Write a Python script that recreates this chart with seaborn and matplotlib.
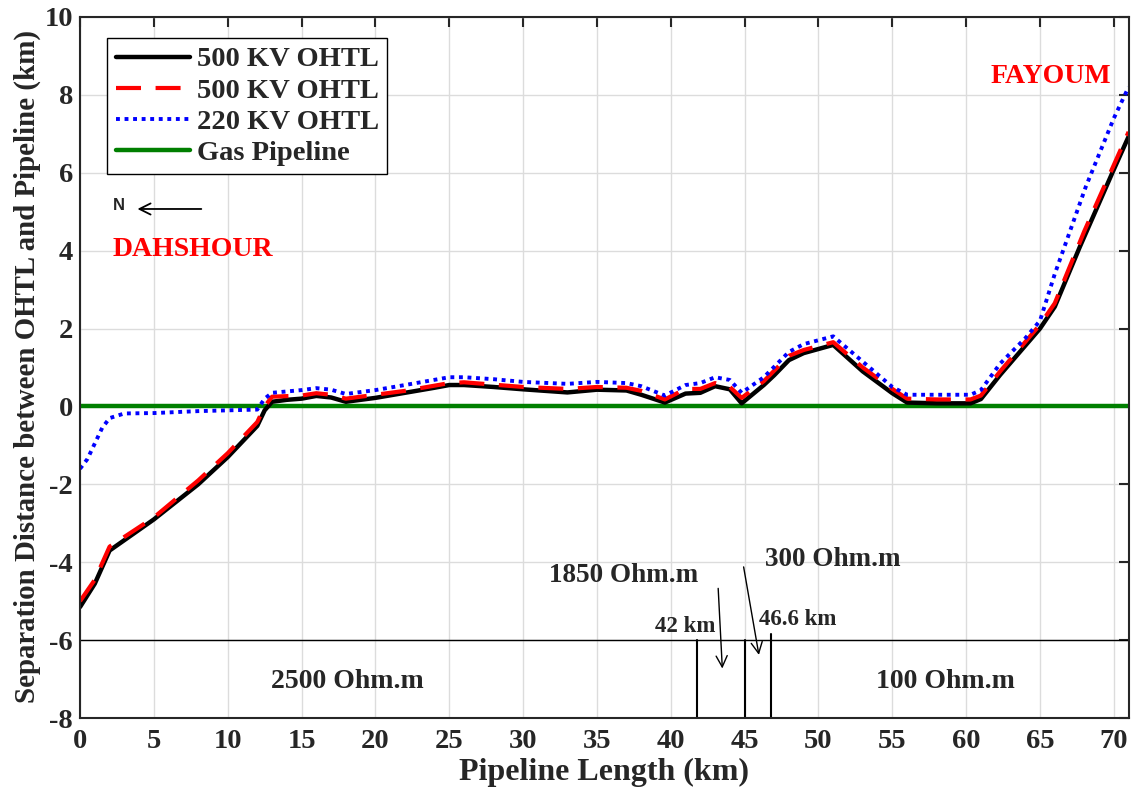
import numpy as np
import pandas as pd
import matplotlib
matplotlib.use("Agg")
import matplotlib.pyplot as plt
import seaborn as sns

# ---- data ----
x_black = [0, 1, 2, 5, 8, 10, 12, 12.5, 13, 14, 15, 16, 17, 18, 20, 22, 24, 25, 26, 28, 30, 33, 35, 37, 38,
           39.6, 41, 42, 43, 44, 44.8, 46.3, 47, 48, 49, 51, 53, 55, 56, 58, 60.3, 61, 62.3, 65, 66, 67.7, 69.9, 71]
y_black = [-5.15, -4.55, -3.7, -2.9, -2.0, -1.3, -0.5, -0.1, 0.12, 0.17, 0.2, 0.27, 0.23, 0.12, 0.22, 0.35, 0.48,
           0.55, 0.55, 0.5, 0.44, 0.36, 0.43, 0.41, 0.3, 0.1, 0.33, 0.35, 0.52, 0.44, 0.08, 0.55, 0.8, 1.19,
           1.37, 1.58, 0.9, 0.34, 0.1, 0.08, 0.08, 0.19, 0.81, 2.0, 2.56, 4.1, 6.0, 6.93]

x_red = [0, 1, 2, 5, 8, 10, 12, 12.5, 13, 15, 16, 17, 18, 20, 22, 25, 26, 28, 30, 33, 35, 37, 38,
         39.6, 41, 42, 43, 44, 44.8, 46.3, 48, 49, 51, 53, 55, 56, 58, 60.3, 61, 62.3, 65, 66, 68, 70, 71]
y_red = [-5.0, -4.45, -3.6, -2.85, -1.9, -1.2, -0.4, 0.0, 0.25, 0.28, 0.34, 0.3, 0.2, 0.3, 0.4, 0.6, 0.62,
         0.56, 0.5, 0.45, 0.5, 0.48, 0.4, 0.18, 0.45, 0.45, 0.6, 0.5, 0.22, 0.65, 1.3, 1.45, 1.65, 1.0, 0.45,
         0.2, 0.18, 0.18, 0.28, 0.9, 2.1, 2.65, 4.5, 6.2, 7.05]

x_blue = [0, 0.5, 1, 1.5, 2, 3, 5, 8, 10, 12, 12.5, 13, 15, 16, 17, 18, 20, 22, 25, 26, 28, 30, 33, 35, 37,
          38, 39.6, 41, 42, 43, 44, 44.8, 46.3, 48, 49, 51, 53, 55, 56, 58, 60.3, 61, 62.3, 64, 65, 66, 68.1, 70, 71]
y_blue = [-1.6, -1.35, -0.95, -0.55, -0.3, -0.18, -0.17, -0.12, -0.1, -0.08, 0.2, 0.35, 0.42, 0.47, 0.43, 0.32,
          0.42, 0.55, 0.75, 0.75, 0.7, 0.63, 0.58, 0.63, 0.6, 0.52, 0.28, 0.55, 0.6, 0.75, 0.68, 0.35, 0.75,
          1.4, 1.6, 1.8, 1.15, 0.5, 0.3, 0.3, 0.3, 0.42, 1.1, 1.75, 2.2, 3.4, 5.64, 7.4, 8.2]

x_gas = [0, 71]
y_gas = [0, 0]

series_labels = ["500 KV OHTL", "500 KV OHTL ", "220 KV OHTL", "Gas Pipeline"]
x_ticks = [0, 5, 10, 15, 20, 25, 30, 35, 40, 45, 50, 55, 60, 65, 70]
y_ticks = [-8, -6, -4, -2, 0, 2, 4, 6, 8, 10]

# soil layer boundaries (km) and resistivity annotations
layer_x = [41.8, 45.0, 46.8]
layer_top = [-6.0, -6.0, -5.85]
layer_y = -6.0

# ---- plotting ----
sns.set_style("whitegrid")
plt.rcParams['font.family'] = 'Liberation Serif'
plt.rcParams['axes.unicode_minus'] = False

fig = plt.figure(figsize=(11.32, 7.97), dpi=100)
ax = fig.add_axes([0.0707, 0.0991, 0.9263, 0.8796])

frames = []
for lab, xs, ys in zip(series_labels, [x_black, x_red, x_blue, x_gas], [y_black, y_red, y_blue, y_gas]):
    frames.append(pd.DataFrame({"x": xs, "y": ys, "series": lab}))
df = pd.concat(frames, ignore_index=True)

palette = {series_labels[0]: "black", series_labels[1]: "#ff0000",
           series_labels[2]: "#0000ff", series_labels[3]: "#007f00"}
styles = {series_labels[0]: (None, 3.2), series_labels[1]: ((6, 3.5), 3.0),
          series_labels[2]: ((1, 1.2), 2.8), series_labels[3]: (None, 3.2)}

for lab in series_labels:
    sub = df[df["series"] == lab]
    dash, lw = styles[lab]
    sns.lineplot(data=sub, x="x", y="y", ax=ax, color=palette[lab], linewidth=lw,
                 label=lab.strip(), sort=False, estimator=None)
    line = ax.lines[-1]
    if dash is not None:
        line.set_dashes(dash)
    if lab == series_labels[3]:
        line.set_zorder(1.5)

# soil layers
ax.plot([0, 71], [layer_y, layer_y], color="black", lw=1.0)
for lx, lt in zip(layer_x, layer_top):
    ax.plot([lx, lx], [-8, lt], color="black", lw=1.5)

ax.set_xlim(0, 71)
ax.set_ylim(-8, 10)
ax.set_xticks(x_ticks)
ax.set_yticks(y_ticks)
ax.grid(True, color="#dcdcdc", lw=1.0)
for s in ax.spines.values():
    s.set_color("#262626")
    s.set_linewidth(1.5)
ax.tick_params(axis="both", which="both", direction="in", length=7, width=1.5,
               top=True, right=True, labelsize=20.5, colors="#262626")
ax.tick_params(axis="x", pad=8)
ax.tick_params(axis="y", pad=5)
for t in ax.get_xticklabels() + ax.get_yticklabels():
    t.set_fontweight("bold")
    t.set_color("#262626")

ax.set_xlabel("Pipeline Length (km)", fontsize=23, fontweight="bold", color="#262626")
ax.set_ylabel("Separation Distance between OHTL and Pipeline (km)", fontsize=20.8,
              fontweight="bold", color="#262626")
ax.yaxis.set_label_coords(-0.037, 0.502)
ax.xaxis.set_label_coords(0.5, -0.057)

leg = ax.legend(loc="upper left", bbox_to_anchor=(0.0257, 0.970), borderaxespad=0, frameon=True,
                prop={"family": "Liberation Serif", "weight": "bold", "size": 20.5},
                fancybox=False, edgecolor="black", handlelength=2.6, borderpad=0.3,
                labelspacing=0.18, handletextpad=0.25, framealpha=1)
leg.get_frame().set_linewidth(1.0)

# annotations
ax.text(2.6, 5.15, "N", fontsize=12, fontweight="bold", family="Liberation Sans",
        ha="center", va="center")
ax.annotate("", xy=(3.7, 5.07), xytext=(8.4, 5.07),
            arrowprops=dict(arrowstyle="->", color="black", lw=1.3, mutation_scale=20))
ax.text(7.65, 4.02, "DAHSHOUR", color="#ff0000", fontsize=20, fontweight="bold",
        ha="center", va="center")
ax.text(65.7, 8.46, "FAYOUM", color="#ff0000", fontsize=20, fontweight="bold",
        ha="center", va="center")

ax.text(36.8, -4.33, "1850 Ohm.m", fontsize=19.5, fontweight="bold", ha="center", va="center")
ax.text(51.0, -3.94, "300 Ohm.m", fontsize=19.5, fontweight="bold", ha="center", va="center")
ax.text(41.0, -5.66, "42 km", fontsize=16.5, fontweight="bold", ha="center", va="center")
ax.text(48.6, -5.48, "46.6 km", fontsize=16.5, fontweight="bold", ha="center", va="center")
ax.text(18.1, -7.05, "2500 Ohm.m", fontsize=20, fontweight="bold", ha="center", va="center")
ax.text(58.6, -7.07, "100 Ohm.m", fontsize=20, fontweight="bold", ha="center", va="center")

ax.annotate("", xy=(43.5, -6.8), xytext=(43.2, -4.6),
            arrowprops=dict(arrowstyle="->", color="black", lw=1.0, mutation_scale=20))
ax.annotate("", xy=(46.0, -6.45), xytext=(44.9, -4.05),
            arrowprops=dict(arrowstyle="->", color="black", lw=1.0, mutation_scale=20))

fig.savefig("out.png", dpi=100)
